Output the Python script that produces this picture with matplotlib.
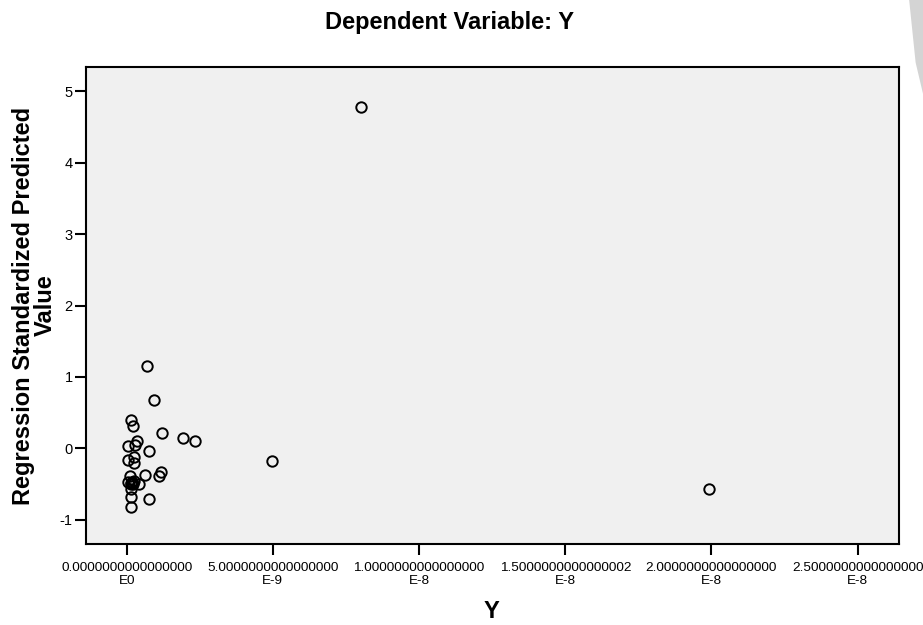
import matplotlib.pyplot as plt
from matplotlib.patches import Polygon
import numpy as np

plt.rcParams['font.family'] = ['Liberation Sans', 'DejaVu Sans']

# observed Y (x axis) and standardized predicted values
y_obs = [8.03e-9, 0.68e-9, 0.93e-9, 0.14e-9, 0.20e-9, 1.22e-9, 1.93e-9, 2.35e-9,
         4.97e-9, 19.93e-9, 0.35e-9, 0.28e-9, 0.04e-9, 0.75e-9, 0.04e-9, 0.26e-9,
         0.24e-9, 0.64e-9, 1.18e-9, 1.12e-9, 0.10e-9, 0.04e-9, 0.18e-9, 0.25e-9,
         0.42e-9, 0.14e-9, 0.16e-9, 0.21e-9, 0.16e-9, 0.16e-9, 0.78e-9, 0.15e-9]
pred_std = [4.78, 1.15, 0.68, 0.40, 0.32, 0.21, 0.15, 0.10,
            -0.18, -0.56, 0.10, 0.05, 0.04, -0.03, -0.16, -0.12,
            -0.20, -0.37, -0.33, -0.39, -0.39, -0.47, -0.47, -0.45,
            -0.50, -0.49, -0.48, -0.49, -0.57, -0.68, -0.71, -0.82]

x_ticks = [0, 5e-9, 1e-8, 1.5e-8, 2e-8, 2.5e-8]
x_ticklabels = ['0.0000000000000000\nE0', '5.0000000000000000\nE-9',
                '1.0000000000000000\nE-8', '1.5000000000000002\nE-8',
                '2.0000000000000000\nE-8', '2.5000000000000000\nE-8']
y_ticks = [-1, 0, 1, 2, 3, 4, 5]

fig = plt.figure(figsize=(9.23, 6.25), dpi=100)
ax = fig.add_axes([0.0932, 0.1296, 0.881, 0.7632])
ax.set_facecolor('#f0f0f0')

ax.plot(y_obs, pred_std, 'o', markersize=7.5, markerfacecolor='none',
        markeredgecolor='black', markeredgewidth=1.4)

ax.set_xlim(-1.39e-9, 26.42e-9)
ax.set_ylim(-1.336, 5.336)
ax.set_xticks(x_ticks)
ax.set_xticklabels(x_ticklabels, fontsize=9.7, linespacing=1.1)
ax.set_yticks(y_ticks)
ax.set_yticklabels([str(v) for v in y_ticks], fontsize=10.5)
ax.tick_params(axis='both', direction='out', length=8, width=1.5, colors='black')
ax.tick_params(axis='x', pad=5)
ax.tick_params(axis='y', pad=1.5)
for s in ax.spines.values():
    s.set_linewidth(1.5)

fig.text(450 / 923, 1 - 22 / 625, 'Dependent Variable: Y', fontsize=17,
         fontweight='bold', ha='center', va='center')
ax.set_xlabel('Y', fontsize=17, fontweight='bold')
ax.xaxis.set_label_coords(0.499, -0.118)
ax.set_ylabel('Regression Standardized Predicted\nValue', fontsize=17,
              fontweight='bold', linespacing=0.95)
ax.yaxis.set_label_coords(-0.036, 0.5)

# grey page-curl artefact at the top right corner
fig.patches.append(Polygon([[0.985, 1.0], [1.0, 1.0], [1.0, 0.85], [0.992, 0.9]],
                           closed=True, transform=fig.transFigure,
                           facecolor='#d4d4d4', edgecolor='none'))

fig.savefig('out.png', dpi=100)
